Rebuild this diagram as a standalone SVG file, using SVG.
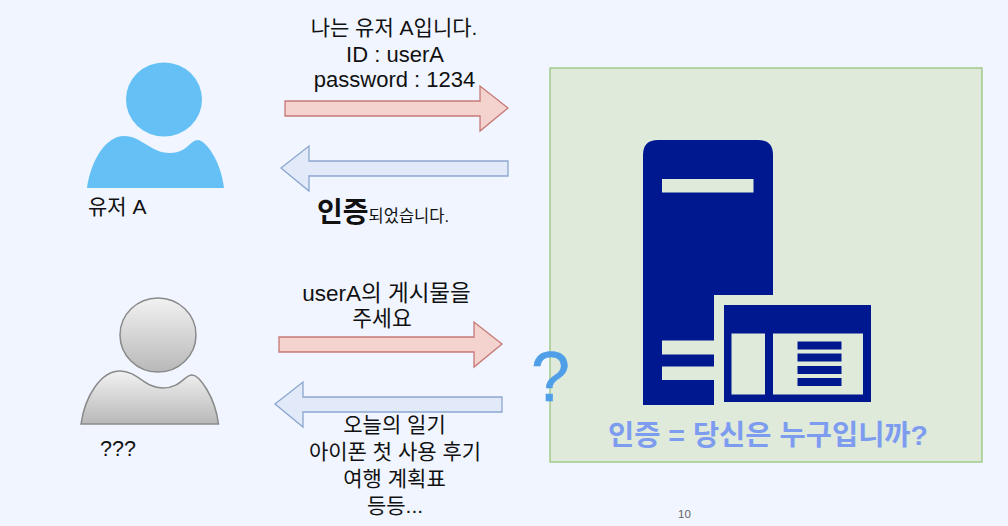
<svg xmlns="http://www.w3.org/2000/svg" width="1008" height="526" viewBox="0 0 1008 526">
<style>
text{font-family:"Liberation Sans","Noto Sans CJK KR",sans-serif;fill:#111;font-size:21px}
.c{text-anchor:middle}
.red{fill:#f4d3cf;stroke:#b85450;stroke-width:1.3;stroke-opacity:.75}
.blue{fill:#e2eafa;stroke:#6c8ebf;stroke-width:1.3;stroke-opacity:.75}
.srv{fill:#00188f}
.hole{fill:#dfeadb}
</style>
<defs>
<linearGradient id="g" x1="0" y1="0" x2="0" y2="1"><stop offset="0" stop-color="#f2f2f2"/><stop offset="1" stop-color="#b8b8b8"/></linearGradient>
</defs>
<rect width="1008" height="526" fill="#f0f5ff"/>
<g id="server">
<rect x="550" y="68" width="432" height="394" fill="#dfeadb" stroke="#97c47f" stroke-width="1.3"/>
<path class="srv" d="M643 155Q643 140 658 140H758Q773 140 773 155V295H714V405H643Z"/>
<rect class="hole" x="662" y="179" width="91.500" height="13.500"/>
<rect class="hole" x="662" y="340.500" width="52" height="14"/>
<rect class="hole" x="662" y="366.500" width="52" height="13.500"/>
<rect class="srv" x="724" y="305" width="147" height="97"/>
<rect class="hole" x="731.500" y="333.500" width="33.500" height="61"/>
<rect class="hole" x="773" y="333.500" width="90" height="61"/>
<rect class="srv" x="797.500" y="341.500" width="44" height="8"/>
<rect class="srv" x="797.500" y="353.500" width="44" height="8"/>
<rect class="srv" x="797.500" y="366" width="44" height="8"/>
<rect class="srv" x="797.500" y="378" width="44" height="8"/>
<text class="c" x="768" y="445" style="font-size:28.500px;font-weight:700;fill:#7d9cf0">인증 = 당신은 누구입니까?</text>
</g>
<g id="user-a">
<ellipse cx="164" cy="99.500" rx="38" ry="37" fill="#65c1f5"/>
<path d="M87 188C91 160 106 136 124 136C142 136 150 153 170 153C187 153 190 140 198 140C205 140 221 160 224 188Z" fill="#65c1f5"/>
<text x="88" y="214">유저 A</text>
</g>
<g id="user-unknown">
<ellipse cx="158" cy="335" rx="38" ry="37" fill="url(#g)" stroke="#8a8a8a" stroke-width="1.500"/>
<path d="M81 424C85 396 101 371 120 371C138 371 144 388 163 388C181 388 184 375 192 375C199 375 215 396 218.500 424Z" fill="url(#g)" stroke="#8a8a8a" stroke-width="1.500"/>
<text x="100" y="456" style="font-size:21.500px">???</text>
</g>
<g id="connectors">
<path class="red" d="M285 101H480V86L508 108L480 131V116H285Z"/>
<path class="blue" d="M508 161H309V146L281 168L309 191V176H508Z"/>
<path class="red" d="M279 337H474V322L502 344L474 367V352H279Z"/>
<path class="blue" d="M502 397H303V382L275 404L303 427V412H502Z"/>
</g>
<g id="labels">
<text class="c" x="394" y="35">나는 유저 A입니다.</text>
<text class="c" x="395" y="62" style="font-size:22px">ID : userA</text>
<text class="c" x="394.500" y="87" style="font-size:22px">password : 1234</text>
<text x="317" y="222" style="font-size:28px;font-weight:700">인증<tspan style="font-size:16.500px;font-weight:400">되었습니다.</tspan></text>
<text class="c" x="386.500" y="301" style="font-size:22.500px">userA의 게시물을</text>
<text class="c" x="382" y="326" style="font-size:21.500px">주세요</text>
<text class="c" x="394.500" y="432">오늘의 일기</text>
<text class="c" x="395" y="459">아이폰 첫 사용 후기</text>
<text class="c" x="394.500" y="486">여행 계획표</text>
<text class="c" x="395" y="513">등등...</text>
<text x="550.500" y="401" class="c" style="font-size:70px;fill:#4f9fe8;stroke:#4f9fe8;stroke-width:.5">?</text>
<text class="c" x="684.500" y="518" style="font-size:11.500px;fill:#666">10</text>
</g>
</svg>
